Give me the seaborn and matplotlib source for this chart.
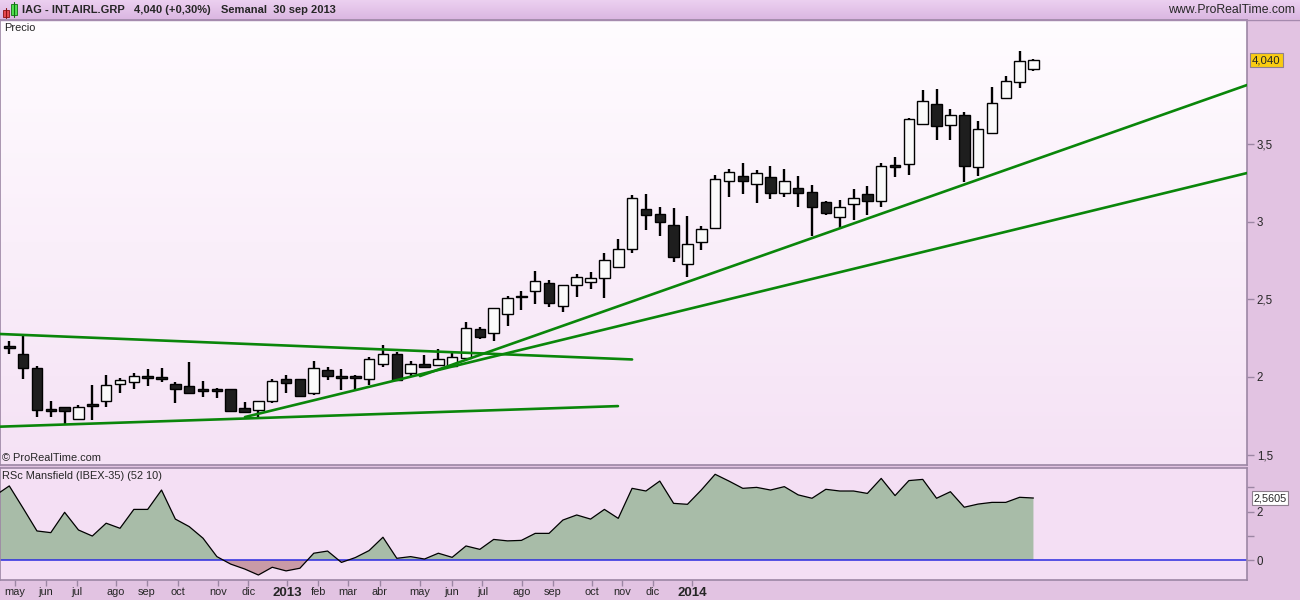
import matplotlib
matplotlib.use('Agg')
import matplotlib.pyplot as plt
import matplotlib.transforms as mtransforms
from matplotlib.patches import Rectangle
import numpy as np
import pandas as pd
import seaborn as sns

# IAG weekly candles (week index 0 = first candle on the chart)
opens = [2.185, 2.15, 2.06, 1.785, 1.805, 1.727, 1.826, 1.847, 1.953, 1.966,
         1.996, 1.99, 1.953, 1.94, 1.91, 1.92, 1.92, 1.80, 1.79, 1.845,
         1.985, 1.985, 1.895, 2.045, 1.996, 1.996, 1.987, 2.082, 2.146, 2.024,
         2.082, 2.075, 2.071, 2.12, 2.307, 2.281, 2.403, 2.513, 2.554, 2.603,
         2.457, 2.593, 2.61, 2.636, 2.71, 2.822, 3.08, 3.05, 2.979, 2.725,
         2.872, 2.957, 3.265, 3.295, 3.241, 3.287, 3.183, 3.215, 3.19, 3.126,
         3.028, 3.113, 3.177, 3.136, 3.355, 3.37, 3.627, 3.756, 3.621, 3.686,
         3.355, 3.574, 3.80, 3.903, 3.982]
highs = [2.23, 2.27, 2.07, 1.845, 1.805, 1.82, 1.95, 2.013, 1.996, 2.024,
         2.05, 2.056, 1.97, 2.095, 1.976, 1.927, 1.92, 1.837, 1.845, 1.985,
         2.013, 1.985, 2.103, 2.063, 2.05, 2.013, 2.13, 2.206, 2.163, 2.103,
         2.142, 2.178, 2.153, 2.352, 2.324, 2.443, 2.522, 2.554, 2.683, 2.625,
         2.593, 2.664, 2.675, 2.797, 2.887, 3.173, 3.179, 3.093, 3.087, 3.037,
         2.973, 3.30, 3.34, 3.376, 3.334, 3.36, 3.338, 3.295, 3.237, 3.136,
         3.14, 3.209, 3.23, 3.376, 3.415, 3.671, 3.847, 3.853, 3.725, 3.707,
         3.65, 3.866, 3.94, 4.10, 4.05]
lows = [2.15, 1.99, 1.74, 1.745, 1.70, 1.727, 1.72, 1.805, 1.895, 1.925,
        1.94, 1.97, 1.834, 1.895, 1.873, 1.863, 1.783, 1.775, 1.74, 1.834,
        1.90, 1.877, 1.884, 1.98, 1.916, 1.916, 1.948, 2.063, 1.98, 1.998,
        2.056, 2.075, 2.071, 2.12, 2.243, 2.234, 2.33, 2.432, 2.468, 2.449,
        2.42, 2.513, 2.564, 2.507, 2.71, 2.80, 2.947, 2.908, 2.742, 2.646,
        2.818, 2.957, 3.162, 3.177, 3.119, 3.145, 3.162, 3.097, 2.908, 3.044,
        2.957, 3.012, 3.044, 3.097, 3.286, 3.30, 3.627, 3.53, 3.53, 3.258,
        3.296, 3.574, 3.80, 3.859, 3.974]
closes = [2.19, 2.06, 1.79, 1.78, 1.78, 1.805, 1.81, 1.948, 1.981, 2.006,
          1.996, 1.99, 1.92, 1.895, 1.91, 1.912, 1.783, 1.775, 1.845, 1.974,
          1.963, 1.877, 2.056, 2.006, 1.996, 1.996, 2.116, 2.146, 1.98, 2.082,
          2.066, 2.114, 2.131, 2.314, 2.256, 2.443, 2.507, 2.513, 2.619, 2.474,
          2.593, 2.642, 2.636, 2.754, 2.822, 3.151, 3.041, 3.0, 2.77, 2.855,
          2.951, 3.273, 3.318, 3.265, 3.312, 3.183, 3.265, 3.183, 3.093, 3.054,
          3.093, 3.151, 3.136, 3.36, 3.355, 3.662, 3.778, 3.618, 3.686, 3.361,
          3.596, 3.763, 3.907, 4.036, 4.040]

# RSc Mansfield vs IBEX-35, week -1 .. 74
rs_weeks = list(range(-1, 75))
rs_values = [2.67, 3.06, 2.14, 1.20, 1.13, 1.97, 1.24, 0.99, 1.52, 1.31, 2.09,
             2.09, 2.89, 1.69, 1.38, 0.90, 0.14, -0.17, -0.37, -0.62, -0.30,
             -0.45, -0.34, 0.28, 0.37, -0.10, 0.10, 0.39, 0.94, 0.07, 0.14,
             0.04, 0.28, 0.11, 0.58, 0.44, 0.85, 0.79, 0.81, 1.10, 1.10,
             1.65, 1.86, 1.69, 2.09, 1.72, 2.96, 2.85, 3.26, 2.34, 2.30,
             2.89, 3.54, 3.26, 2.96, 3.00, 2.89, 3.03, 2.69, 2.55, 2.92,
             2.85, 2.85, 2.75, 3.37, 2.66, 3.28, 3.33, 2.55, 2.82, 2.18,
             2.31, 2.38, 2.38, 2.59, 2.56]

# trendlines: (week start, price start, week end, price end)
trend_lines = [(-0.67, 2.277, 45.0, 2.113),
               (-0.67, 1.680, 43.98, 1.8125),
               (17.03, 1.742, 89.43, 3.314),
               (29.67, 2.006, 89.43, 3.881)]

month_labels = ['may', 'jun', 'jul', 'ago', 'sep', 'oct', 'nov', 'dic', '2013',
                'feb', 'mar', 'abr', 'may', 'jun', 'jul', 'ago', 'sep', 'oct',
                'nov', 'dic', '2014']
month_pos = [0.41, 2.63, 4.87, 7.69, 9.93, 12.21, 15.10, 17.27, 20.09,
             22.33, 24.49, 26.78, 29.67, 31.97, 34.18, 37.02, 39.26, 42.08,
             44.29, 46.49, 49.35]

price_ticks = [1.5, 2, 2.5, 3, 3.5]
rs_ticks = [0, 1, 2, 3]
last_price = 4.040
last_rs = 2.5605

sns.set_style('white')
plt.rcParams['font.family'] = ['Liberation Sans', 'DejaVu Sans']
plt.rcParams['font.size'] = 8

W, H = 1300, 600
fig = plt.figure(figsize=(13, 6), dpi=100)
fig.patch.set_facecolor('#e2c3e2')
border = '#9c86a4'
xlim = (-0.67, 89.43)
fs = 7.9

# ---- header bar
hdr = fig.add_axes([0, 1 - 19 / H, 1, 19 / H])
hdr.set_xlim(0, W)
hdr.set_ylim(19, 0)
hdr.axis('off')
hdr.imshow(np.linspace(0, 1, 50).reshape(-1, 1), cmap=matplotlib.colors.LinearSegmentedColormap.from_list(
    'h', ['#ecd0f0', '#dbb7e2']), extent=[0, W, 19, 0], aspect='auto')
hdr.plot([5.5, 5.5], [8, 18], color='#8a1010', lw=0.8)
hdr.add_patch(Rectangle((3, 10), 6, 7, fc='#e84a50', ec='#8a1010', lw=0.6))
hdr.plot([13.5, 13.5], [2, 17], color='#107010', lw=0.8)
hdr.add_patch(Rectangle((10.5, 4), 6, 11, fc='#50e050', ec='#107010', lw=0.6))
hdr.text(22, 10, 'IAG - INT.AIRL.GRP', fontweight='bold', va='center', fontsize=8)
hdr.text(134, 10, '4,040 (+0,30%)', fontweight='bold', va='center', fontsize=8)
hdr.text(221, 10, 'Semanal  30 sep 2013', fontweight='bold', va='center', fontsize=8)
hdr.text(1295, 10, 'www.ProRealTime.com', va='center', ha='right', fontsize=8.8)
fig.add_artist(plt.Line2D([0, 1], [1 - 19.5 / H] * 2, color='#a58aae', lw=1))

# ---- price panel
ax = fig.add_axes([0, 1 - 465 / H, 1247 / W, 445 / H])
grad = np.linspace(0, 1, 100).reshape(-1, 1)
ax.imshow(grad, cmap=matplotlib.colors.LinearSegmentedColormap.from_list(
    'p', ['#fffcff', '#f5e2f5']), extent=[0, 1, 0, 1], transform=ax.transAxes,
    aspect='auto', zorder=0)

df = pd.DataFrame({'o': opens, 'h': highs, 'l': lows, 'c': closes})
df['week'] = np.arange(len(df))
df['bottom'] = df[['o', 'c']].min(axis=1)
df['height'] = (df.c - df.o).abs().clip(lower=0.012)
df['up'] = (df.c - df.o) > 0.008

ax.vlines(df.week, df.l, df.h, color='black', lw=1.7, zorder=2)
up = df[df.up]
dn = df[~df.up]
ax.bar(up.week, up.height, bottom=up.bottom, width=0.76, color='#fafafa',
       edgecolor='black', lw=1.0, zorder=3)
ax.bar(dn.week, dn.height, bottom=dn.bottom, width=0.76, color='#1e1e1e',
       edgecolor='black', lw=1.0, zorder=3)

for x0, y0, x1, y1 in trend_lines:
    sns.lineplot(x=[x0, x1], y=[y0, y1], ax=ax, color='#0a860a', lw=1.9, zorder=4)

ax.set_xlim(*xlim)
ax.set_ylim(1.433, 4.300)
ax.set_xticks([])
ax.yaxis.tick_right()
ax.set_yticks(price_ticks)
ax.set_yticklabels([f'{v:g}'.replace('.', ',') for v in price_ticks])
ax.tick_params(axis='y', direction='out', length=5, width=1, color=border, pad=2,
               labelsize=8.3, right=True, left=False)
for s in ax.spines.values():
    s.set_color(border)
    s.set_linewidth(1.2)
ax.set_xlabel('')
ax.set_ylabel('')
trans = mtransforms.blended_transform_factory(ax.transAxes, ax.transData)
ax.text(1.004, last_price, f'{last_price:.3f}'.replace('.', ','), transform=trans,
        va='center', ha='left', fontsize=8.2,
        bbox=dict(boxstyle='square,pad=0.18', fc='#f9cc12', ec='#8f7f8f', lw=0.8))
ax.text(0.003, 0.982, 'Precio', transform=ax.transAxes, va='center', fontsize=fs)
ax.text(0.002, 0.016, '© ProRealTime.com', transform=ax.transAxes, va='center', fontsize=fs)

# ---- RSc Mansfield panel
ax2 = fig.add_axes([0, 20 / H, 1247 / W, 112 / H])
ax2.set_facecolor('#f4dff4')
rs = np.array(rs_values)
wk = np.array(rs_weeks)
ax2.fill_between(wk, rs, 0, where=rs >= 0, interpolate=True, color='#a8bca8', lw=0, zorder=1)
ax2.fill_between(wk, rs, 0, where=rs <= 0, interpolate=True, color='#c99aa6', lw=0, zorder=1)
sns.lineplot(x=wk, y=rs, ax=ax2, color='black', lw=0.9, zorder=3)
ax2.axhline(0, color='#2a2ae0', lw=1.1, zorder=2)
ax2.set_xlim(*xlim)
ax2.set_ylim(-0.826, 3.80)
ax2.yaxis.tick_right()
ax2.set_yticks(rs_ticks)
ax2.set_yticklabels(['0', '', '2', ''])
ax2.tick_params(axis='y', direction='out', length=5, width=1, color=border, pad=2,
                labelsize=8.3, right=True, left=False)
ax2.set_xticks(month_pos)
ax2.set_xticklabels(month_labels)
ax2.tick_params(axis='x', direction='out', length=4, width=1, color=border, pad=1,
                labelsize=fs, bottom=True)
for lab in ax2.get_xticklabels():
    if lab.get_text() in ('2013', '2014'):
        lab.set_fontweight('bold')
        lab.set_fontsize(9.5)
for s in ax2.spines.values():
    s.set_color(border)
    s.set_linewidth(1.2)
ax2.set_xlabel('')
ax2.set_ylabel('')
trans2 = mtransforms.blended_transform_factory(ax2.transAxes, ax2.transData)
ax2.text(1.005, last_rs, f'{last_rs:.4f}'.replace('.', ','), transform=trans2,
         va='center', ha='left', fontsize=7.8,
         bbox=dict(boxstyle='square,pad=0.15', fc='white', ec='#8f7f8f', lw=0.8))
ax2.text(0.002, 0.929, 'RSc Mansfield (IBEX-35) (52 10)', transform=ax2.transAxes,
         va='center', fontsize=fs)

fig.savefig('out.png', dpi=100)
